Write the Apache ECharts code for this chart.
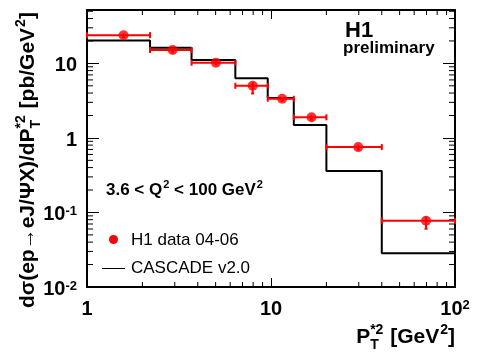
<!DOCTYPE html>
<html><head><meta charset="utf-8">
<script src="https://cdn.jsdelivr.net/npm/echarts@6/dist/echarts.min.js"></script>
<style>html,body{margin:0;padding:0;background:#fff}#c{width:479px;height:362px}</style>
</head><body><div id="c"></div><script>
// ---- data ----
const binEdges = [1, 2.2, 3.7, 6.4, 9.6, 13.3, 20, 40, 100];
const h1X = [1.58, 2.92, 5.02, 7.95, 11.5, 16.6, 29.8, 69.6];
const h1Y = [23.9, 15.1, 10.2, 5.0, 3.35, 1.89, 0.753, 0.0775];
const h1YLow = [22.6, 14.3, 9.7, 3.95, 3.15, 1.76, 0.70, 0.0605];
const h1YHigh = [25.2, 15.9, 10.7, 5.6, 3.55, 2.02, 0.81, 0.088];
const cascadeY = [20.3, 16.2, 11.1, 6.3, 3.42, 1.49, 0.36, 0.0283];
const xRange = [1, 100];
const yRange = [0.01, 52];
const xMinorTicks = [2, 3, 4, 5, 6, 7, 8, 9, 20, 30, 40, 50, 60, 70, 80, 90];
const yMinorTicks = [0.02, 0.03, 0.04, 0.05, 0.06, 0.07, 0.08, 0.09,
                     0.2, 0.3, 0.4, 0.5, 0.6, 0.7, 0.8, 0.9,
                     2, 3, 4, 5, 6, 7, 8, 9, 20, 30, 40, 50];
const seriesNames = ['H1 data 04-06', 'CASCADE v2.0'];
const expLabel = 'H1';
const expSubLabel = 'preliminary';

// ---- helpers ----
const FF = '"Liberation Sans", Arial, Helvetica, sans-serif';
const mctx = document.createElement('canvas').getContext('2d');
function tw(t, font) { mctx.font = font; return mctx.measureText(t).width; }

function powLabel(v) {
  const l = Math.log10(v), e = Math.round(l);
  if (Math.abs(l - e) > 1e-6) return '';
  if (e === 0) return '1';
  if (e === 1) return '10';
  return '10{s|' + e + '}';
}
const labelRich = { s: { fontSize: 13, fontWeight: 'bold', fontFamily: FF, color: '#000', verticalAlign: 'top', lineHeight: 9 } };

// error bar data: [xLo, xHi, y, yLo, yHi, x]
const errData = h1Y.map((y, i) => [binEdges[i], binEdges[i + 1], y, h1YLow[i], h1YHigh[i], h1X[i]]);
const scatterData = h1Y.map((y, i) => [h1X[i], y]);
const histData = binEdges.map((e, i) => [e, cascadeY[Math.min(i, cascadeY.length - 1)]]);

// ---- titles built from measured pieces ----
function buildPieces(parts, mainFont, smallFont) {
  let cx = 0; const out = [];
  parts.forEach(p => {
    if (p.stack) {
      const w1 = tw(p.sup, smallFont), w2 = tw(p.sub, smallFont);
      out.push({ t: p.sup, x: cx, dy: -7, font: smallFont });
      out.push({ t: p.sub, x: cx, dy: 8, font: smallFont });
      cx += Math.max(w1, w2) + 1;
    } else if (p.sup) {
      out.push({ t: p.sup, x: cx + 1, dy: -7, font: smallFont });
      cx += tw(p.sup, smallFont) + 1;
    } else {
      out.push({ t: p.t, x: cx, dy: 0, font: mainFont });
      cx += tw(p.t, mainFont);
    }
  });
  return { pieces: out, width: cx };
}
const titleMain = 'bold 21px ' + FF, titleSmall = 'bold 14px ' + FF;
const yTitle = buildPieces([
  { t: 'dσ(ep→eJ/ΨX)/dP' }, { stack: true, sup: '*2', sub: 'T' },
  { t: ' [pb/GeV' }, { sup: '2' }, { t: ']' }
], titleMain, titleSmall);
const xTitle = buildPieces([
  { t: 'P' }, { stack: true, sup: '*2', sub: 'T' },
  { t: ' [GeV' }, { sup: '2' }, { t: ']' }
], titleMain, titleSmall);

function toTexts(b, ox, oy) {
  return b.pieces.map(p => ({
    type: 'text', x: ox + p.x, y: oy + p.dy, silent: true,
    style: { text: p.t, font: p.font, fill: '#000', align: 'left', verticalAlign: 'middle' }
  }));
}

const annFont = 'bold 17px ' + FF, annSmall = 'bold 11px ' + FF;
const ann = buildPieces([
  { t: '3.6 < Q' }, { sup: '2' }, { t: ' < 100 GeV' }, { sup: '2' }
], annFont, annSmall);

const legFont = '17px ' + FF;

const graphics = [
  { type: 'group', x: 28.5, y: 308, rotation: Math.PI / 2, silent: true, children: toTexts(yTitle, 0, 0) },
  { type: 'group', x: 455 - xTitle.width, y: 337.5, silent: true, children: toTexts(xTitle, 0, 0) },
  { type: 'group', x: 106, y: 190, silent: true, children: toTexts(ann, 0, 0).map(c => { if (c.style.font === annSmall) c.y += 2; return c; }) },
  { type: 'text', x: 345, y: 31, silent: true, style: { text: expLabel, font: 'bold 22px ' + FF, fill: '#000', align: 'left', verticalAlign: 'middle' } },
  { type: 'text', x: 343, y: 48, silent: true, style: { text: expSubLabel, font: 'bold 17px ' + FF, fill: '#000', align: 'left', verticalAlign: 'middle' } },
  { type: 'circle', shape: { cx: 113.5, cy: 239.5, r: 4.5 }, silent: true, style: { fill: '#ff0000' } },
  { type: 'text', x: 131, y: 240, silent: true, style: { text: seriesNames[0], font: legFont, fill: '#000', align: 'left', verticalAlign: 'middle' } },
  { type: 'line', shape: { x1: 102, y1: 268.5, x2: 125, y2: 268.5 }, silent: true, style: { stroke: '#000', lineWidth: 1 } },
  { type: 'text', x: 131, y: 268, silent: true, style: { text: seriesNames[1], font: legFont, fill: '#000', align: 'left', verticalAlign: 'middle' } }
];

const axisCommon = {
  type: 'log', logBase: 10,
  axisLine: { show: true, onZero: false, lineStyle: { color: '#000', width: 2 } },
  splitLine: { show: false }, minorTick: { show: false }
};

const chart = echarts.init(document.getElementById('c'), null, { renderer: 'canvas' });
chart.setOption({
  animation: false,
  backgroundColor: '#fff',
  grid: { left: 87, right: 24, top: 10, bottom: 75, containLabel: false },
  xAxis: [
    Object.assign({}, axisCommon, {
      position: 'bottom', min: xRange[0], max: xRange[1],
      axisTick: { inside: true, length: 9, lineStyle: { color: '#000', width: 1 } },
      axisLabel: { margin: 12, fontSize: 20, fontWeight: 'bold', fontFamily: FF, color: '#000', lineHeight: 20,
                   formatter: powLabel, rich: labelRich, showMinLabel: true, showMaxLabel: true }
    }),
    Object.assign({}, axisCommon, {
      position: 'top', min: xRange[0], max: xRange[1],
      axisTick: { inside: true, length: 9, lineStyle: { color: '#000', width: 1 } },
      axisLabel: { show: false }
    })
  ],
  yAxis: [
    Object.assign({}, axisCommon, {
      position: 'left', min: yRange[0], max: yRange[1],
      axisTick: { inside: true, length: 12, lineStyle: { color: '#000', width: 1 } },
      axisLabel: { margin: 10, fontSize: 20, fontWeight: 'bold', fontFamily: FF, color: '#000', lineHeight: 20,
                   padding: [5, 0, 0, 0], formatter: powLabel, rich: labelRich, showMaxLabel: false }
    }),
    Object.assign({}, axisCommon, {
      position: 'right', min: yRange[0], max: yRange[1],
      axisTick: { inside: true, length: 12, lineStyle: { color: '#000', width: 1 } },
      axisLabel: { show: false }
    })
  ],
  graphic: graphics,
  series: [
    {
      name: 'minorTicks', type: 'custom', silent: true, z: 1,
      data: [[xRange[0], yRange[0]]],
      renderItem: function (params, api) {
        const ch = [];
        const st = { stroke: '#000', lineWidth: 1 };
        xMinorTicks.forEach(v => {
          const b = api.coord([v, yRange[0]]), t = api.coord([v, yRange[1]]);
          ch.push({ type: 'line', shape: { x1: b[0], y1: b[1], x2: b[0], y2: b[1] - 5 }, style: st });
          ch.push({ type: 'line', shape: { x1: t[0], y1: t[1], x2: t[0], y2: t[1] + 5 }, style: st });
        });
        yMinorTicks.forEach(v => {
          const l = api.coord([xRange[0], v]), r = api.coord([xRange[1], v]);
          ch.push({ type: 'line', shape: { x1: l[0], y1: l[1], x2: l[0] + 6, y2: l[1] }, style: st });
          ch.push({ type: 'line', shape: { x1: r[0], y1: r[1], x2: r[0] - 6, y2: r[1] }, style: st });
        });
        return { type: 'group', children: ch };
      }
    },
    {
      name: seriesNames[1], type: 'line', step: 'end', data: histData,
      showSymbol: false, symbol: 'none', silent: true, z: 2,
      lineStyle: { color: '#000', width: 2 }
    },
    {
      name: 'errors', type: 'custom', silent: true, z: 3,
      data: errData,
      encode: { x: [0, 1, 5], y: [2, 3, 4] },
      renderItem: function (params, api) {
        const a = api.coord([api.value(0), api.value(2)]);
        const b = api.coord([api.value(1), api.value(2)]);
        const lo = api.coord([api.value(5), api.value(3)]);
        const hi = api.coord([api.value(5), api.value(4)]);
        const st = { stroke: '#ff0000', lineWidth: 2 };
        return { type: 'group', children: [
          { type: 'line', shape: { x1: a[0], y1: a[1], x2: b[0], y2: b[1] }, style: st },
          { type: 'line', shape: { x1: a[0], y1: a[1] - 3, x2: a[0], y2: a[1] + 3 }, style: st },
          { type: 'line', shape: { x1: b[0], y1: b[1] - 3, x2: b[0], y2: b[1] + 3 }, style: st },
          { type: 'line', shape: { x1: lo[0], y1: lo[1], x2: hi[0], y2: hi[1] }, style: st },
          { type: 'line', shape: { x1: lo[0] - 1.5, y1: lo[1], x2: lo[0] + 1.5, y2: lo[1] }, style: st }
        ] };
      }
    },
    {
      name: seriesNames[0], type: 'scatter', data: scatterData, z: 4,
      symbol: 'circle', symbolSize: 10, itemStyle: { color: '#ff0000' }
    }
  ]
});
</script></body></html>
